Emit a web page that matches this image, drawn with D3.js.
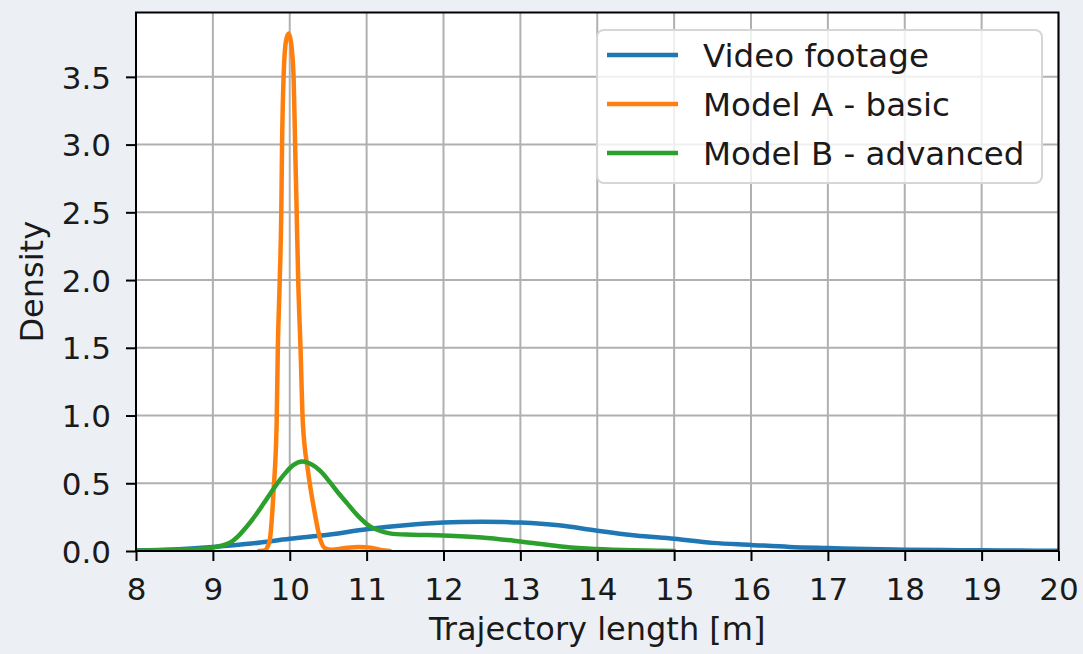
<!DOCTYPE html>
<html>
<head>
<meta charset="utf-8">
<script src="https://cdn.jsdelivr.net/npm/d3@7"></script>
<style>
  html, body { margin: 0; padding: 0; background: #ecf0f4; }
  svg { display: block; }
  text { font-family: "DejaVu Sans", sans-serif; fill: #1a1a1a; }
</style>
</head>
<body>
<div id="chart"></div>
<script>
// Kernel density estimates of trajectory length per source
const videoX = [8, 8.5, 9, 9.5, 10, 10.5, 11, 11.5, 12, 12.5, 13, 13.5, 14, 14.5, 15, 15.5, 16, 16.5, 17, 17.5, 18, 18.5, 19, 19.5, 20];
const videoY = [0.005, 0.012, 0.03, 0.055, 0.09, 0.12, 0.16, 0.19, 0.21, 0.215, 0.21, 0.19, 0.15, 0.115, 0.09, 0.06, 0.045, 0.03, 0.022, 0.015, 0.01, 0.007, 0.005, 0.003, 0.002];

const modelAX = [9.6, 9.68, 9.71, 9.74, 9.79, 9.83, 9.845, 9.87, 9.89, 9.9, 9.92, 9.95, 9.985, 10.015, 10.05, 10.07, 10.09, 10.11, 10.14, 10.17, 10.24, 10.31, 10.4, 10.46, 10.55, 10.7, 10.9, 11.05, 11.2, 11.3];
const modelAY = [0, 0.005, 0.03, 0.08, 0.45, 0.95, 1.5, 2.0, 2.5, 3.0, 3.5, 3.76, 3.82, 3.76, 3.5, 3.0, 2.5, 2.0, 1.5, 0.95, 0.58, 0.33, 0.08, 0.02, 0.01, 0.02, 0.03, 0.025, 0.005, 0];

const modelBX = [8, 8.5, 9, 9.22, 9.33, 9.44, 9.55, 9.66, 9.79, 9.92, 10.05, 10.16, 10.28, 10.4, 10.52, 10.63, 10.75, 10.87, 11.05, 11.3, 11.6, 12, 12.5, 13, 13.5, 13.8, 14.2, 14.8, 15];
const modelBY = [0.003, 0.01, 0.025, 0.06, 0.11, 0.18, 0.26, 0.35, 0.46, 0.56, 0.635, 0.66, 0.64, 0.59, 0.51, 0.43, 0.35, 0.27, 0.18, 0.13, 0.12, 0.115, 0.1, 0.07, 0.035, 0.02, 0.01, 0.002, 0];

const seriesNames = ["Video footage", "Model A - basic", "Model B - advanced"];
const seriesColors = ["#1f77b4", "#ff7f0e", "#2ca02c"];

const xTicks = [8, 9, 10, 11, 12, 13, 14, 15, 16, 17, 18, 19, 20];
const yTicks = [0.0, 0.5, 1.0, 1.5, 2.0, 2.5, 3.0, 3.5];
const xDomain = [8, 20];
const yDomain = [0, 3.975];

const W = 1083, H = 654;
const margin = { top: 12.5, right: 24.5, bottom: 103, left: 136 };
const iw = W - margin.left - margin.right;
const ih = H - margin.top - margin.bottom;

const svg = d3.select("#chart").append("svg")
  .attr("width", W).attr("height", H);

svg.append("rect").attr("width", W).attr("height", H).attr("fill", "#ecf0f4");

const g = svg.append("g").attr("transform", `translate(${margin.left},${margin.top})`);

const x = d3.scaleLinear().domain(xDomain).range([0, iw]);
const y = d3.scaleLinear().domain(yDomain).range([ih, 0]);

g.append("rect").attr("width", iw).attr("height", ih).attr("fill", "#ffffff");

// grid
g.append("g").selectAll("line").data(xTicks).join("line")
  .attr("x1", d => x(d)).attr("x2", d => x(d))
  .attr("y1", 0).attr("y2", ih)
  .attr("stroke", "#b0b0b0").attr("stroke-width", 2);
g.append("g").selectAll("line").data(yTicks).join("line")
  .attr("x1", 0).attr("x2", iw)
  .attr("y1", d => y(d)).attr("y2", d => y(d))
  .attr("stroke", "#b0b0b0").attr("stroke-width", 2);

// curves
g.append("clipPath").attr("id", "plotclip")
  .append("rect").attr("width", iw).attr("height", ih);

const smooth = d3.line().x(d => x(d[0])).y(d => Math.min(y(d[1]), y(0))).curve(d3.curveCatmullRom.alpha(0.5));
const sharp = d3.line().x(d => x(d[0])).y(d => y(d[1])).curve(d3.curveMonotoneX);
const series = [
  { pts: d3.zip(videoX, videoY), gen: smooth },
  { pts: d3.zip(modelAX, modelAY), gen: sharp },
  { pts: d3.zip(modelBX, modelBY), gen: smooth }
];
const curves = g.append("g").attr("clip-path", "url(#plotclip)");
series.forEach((s, i) => {
  curves.append("path").datum(s.pts)
    .attr("d", s.gen)
    .attr("fill", "none")
    .attr("stroke", seriesColors[i])
    .attr("stroke-width", 4.5)
    .attr("stroke-linejoin", "round")
    .attr("stroke-linecap", "round");
});

// axes
const xAxis = d3.axisBottom(x).tickValues(xTicks).tickFormat(d3.format("d"))
  .tickSize(10).tickPadding(16);
const yAxis = d3.axisLeft(y).tickValues(yTicks).tickFormat(d3.format(".1f"))
  .tickSize(10).tickPadding(15);

const gx = g.append("g").attr("transform", `translate(0,${ih})`).call(xAxis);
const gy = g.append("g").call(yAxis);
[gx, gy].forEach(a => {
  a.select(".domain").remove();
  a.selectAll("line").attr("stroke", "#000").attr("stroke-width", 2);
  a.selectAll("text").attr("font-size", 31).attr("fill", "#1a1a1a")
    .attr("font-family", "DejaVu Sans, sans-serif");
});
gx.selectAll("text").attr("dy", null).attr("y", 0).attr("transform", "translate(0,49)");
gy.selectAll("text").attr("dy", "0.36em");

// spines
g.append("rect").attr("width", iw).attr("height", ih)
  .attr("fill", "none").attr("stroke", "#000").attr("stroke-width", 2);

// axis titles
svg.append("text")
  .attr("x", margin.left + iw / 2).attr("y", 640)
  .attr("text-anchor", "middle").attr("font-size", 32)
  .text("Trajectory length [m]");
svg.append("text")
  .attr("transform", `translate(43,${margin.top + ih / 2}) rotate(-90)`)
  .attr("text-anchor", "middle").attr("font-size", 32)
  .text("Density");

// legend
const lg = svg.append("g").attr("transform", "translate(597,30)");
lg.append("rect").attr("width", 445).attr("height", 153).attr("rx", 7)
  .attr("fill", "#ffffff").attr("fill-opacity", 0.8)
  .attr("stroke", "#d6d6d6").attr("stroke-width", 2);
seriesNames.forEach((name, i) => {
  const yy = 25 + i * 49;
  lg.append("line").attr("x1", 10).attr("x2", 81).attr("y1", yy).attr("y2", yy)
    .attr("stroke", seriesColors[i]).attr("stroke-width", 4.5);
  lg.append("text").attr("x", 106).attr("y", yy + 11.5)
    .attr("font-size", 32.5).text(name);
});
</script>
</body>
</html>
